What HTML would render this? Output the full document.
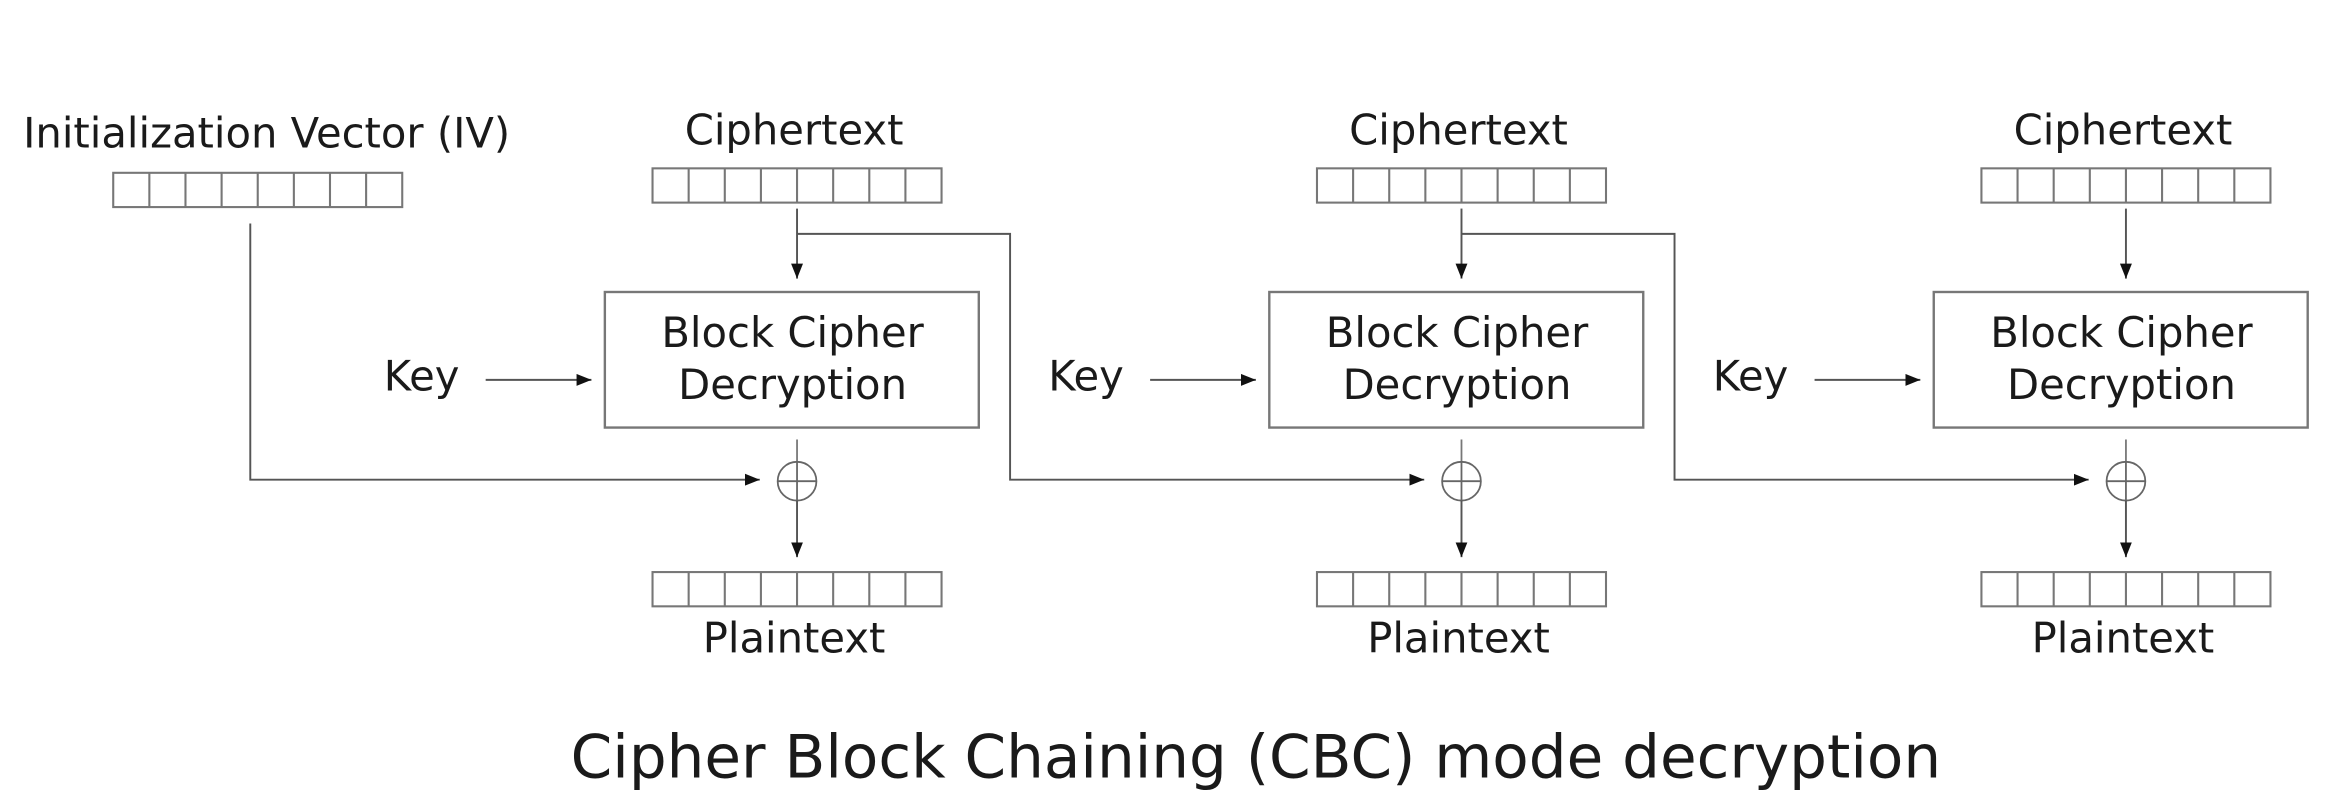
<!DOCTYPE html>
<html><head><meta charset="utf-8"><style>html,body{margin:0;padding:0;background:#fff}svg{display:block}</style></head>
<body>
<svg width="2336" height="800" viewBox="0 0 1568 537" preserveAspectRatio="none" xmlns="http://www.w3.org/2000/svg">
<defs>
<marker id="a" markerWidth="10" markerHeight="8" refX="10" refY="4" orient="auto" markerUnits="userSpaceOnUse"><path d="M0,0 L10,4 L0,8 Z" fill="#111"/></marker>
<g id="reg"><rect x="0" y="0" width="194" height="23" fill="#fff" stroke="#777" stroke-width="1.4"/>
<path d="M24.25,0v23M48.5,0v23M72.75,0v23M97,0v23M121.25,0v23M145.5,0v23M169.75,0v23" stroke="#777" stroke-width="1.4"/></g>
<g id="stage">
<use href="#reg" x="438" y="113"/>
<text x="533" y="97" font-size="28" text-anchor="middle">Ciphertext</text>
<line x1="535" y1="140" x2="535" y2="187" stroke="#555" stroke-width="1.3" marker-end="url(#a)"/>
<rect x="406" y="196" width="251" height="91" fill="#fff" stroke="#777" stroke-width="1.6"/>
<text x="532" y="233" font-size="28" text-anchor="middle">Block Cipher</text>
<text x="532" y="268" font-size="28" text-anchor="middle">Decryption</text>
<text x="283" y="262" font-size="28" text-anchor="middle">Key</text>
<line x1="326" y1="255" x2="397" y2="255" stroke="#555" stroke-width="1.3" marker-end="url(#a)"/>
<line x1="535" y1="295" x2="535" y2="310" stroke="#777" stroke-width="1.2"/>
<circle cx="535" cy="323" r="13" fill="none" stroke="#666" stroke-width="1.2"/>
<path d="M522,323h26M535,310v26" stroke="#666" stroke-width="1.2"/>
<line x1="535" y1="336" x2="535" y2="374" stroke="#555" stroke-width="1.3" marker-end="url(#a)"/>
<use href="#reg" x="438" y="384"/>
<text x="533" y="438" font-size="28" text-anchor="middle">Plaintext</text>
</g>
</defs>
<g font-family="DejaVu Sans, Liberation Sans, sans-serif" fill="#1a1a1a">
<text x="179" y="99" font-size="28" text-anchor="middle">Initialization Vector (IV)</text>
<use href="#reg" x="76" y="116"/>
<path d="M168,150 V322 H510" fill="none" stroke="#555" stroke-width="1.3" marker-end="url(#a)"/>
<use href="#stage"/>
<use href="#stage" x="446"/>
<use href="#stage" x="892"/>
<path d="M535,157 H678 V322 H956" fill="none" stroke="#555" stroke-width="1.3" marker-end="url(#a)"/>
<path d="M981,157 H1124 V322 H1402" fill="none" stroke="#555" stroke-width="1.3" marker-end="url(#a)"/>
<text x="843" y="522" font-size="40" text-anchor="middle">Cipher Block Chaining (CBC) mode decryption</text>
</g>
</svg>
</body></html>
